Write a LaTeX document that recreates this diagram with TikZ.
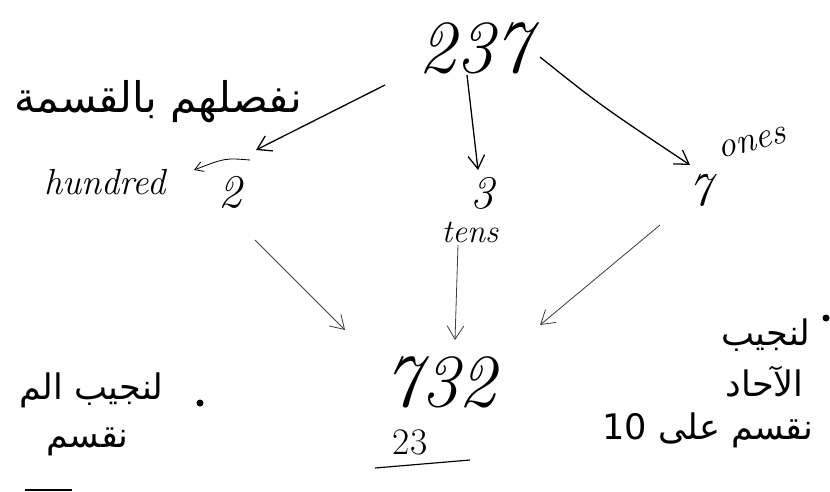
\documentclass[tikz,border=0pt]{standalone}
\usepackage{fontspec}
\usetikzlibrary{arrows.meta}
\TeXXeTstate=1
\newfontfamily\arabicfont[Script=Arabic]{DejaVu Sans}
\tikzset{
  conn/.style={line width=1.1pt, -{Straight Barb[length=4mm,width=5mm]}},
  thinconn/.style={line width=0.7pt, draw=black!75, -{Straight Barb[length=4mm,width=5mm]}},
  num/.style={inner sep=1pt, font=\fontsize{40}{44}\selectfont\itshape},
  bignum/.style={inner sep=1pt, font=\fontsize{64}{68}\selectfont\itshape},
  word/.style={inner sep=1pt, font=\fontsize{31}{35}\selectfont\itshape},
  ar/.style={inner sep=1pt, font=\fontsize{30}{34}\selectfont\arabicfont},
}
\begin{document}
\begin{tikzpicture}[x=0.03cm,y=-0.03cm]
\useasboundingbox (0,0) rectangle (830,491);
\node[bignum] (n237) at (475,48) {237};
\node[ar, font=\fontsize{36}{40}\selectfont\arabicfont] (sep) at (158,102) {\beginR نفصلهم بالقسمة\endR};
\node[num] (d2) at (230,192) {2};
\node[word] (hund) at (105,182) {hundred};
\node[num] (d3) at (482,193) {3};
\node[word, font=\fontsize{28}{32}\selectfont\itshape] (tens) at (470,232) {tens};
\node[num] (d7) at (700,190) {7};
\node[word, rotate=14] (ones) at (752,143) {ones};
\node[bignum] (n732) at (440,382) {732};
\node[num, font=\fontsize{32}{36}\selectfont] (n23) at (410,442) {23};
\coordinate (u1) at (375,468);
\coordinate (u2) at (470,460);
\draw[line width=1pt] (u1) -- (u2);
% right text
\node[ar, anchor=east] (r1) at (812,335) {\beginR لنجيب\endR};
\node[ar, anchor=east] (r2) at (805,382) {\beginR الآحاد\endR};
\node[ar, anchor=east] (r3) at (815,430) {\beginR نقسم على \beginL 10\endL\endR};
\fill (826,318) circle (3.5);
% left text
\node[ar, anchor=east] (l1) at (165,390) {\beginR لنجيب الم\endR};
\node[ar, anchor=east] (l2) at (130,442) {\beginR نقسم\endR};
\fill (200,403) circle (3.5);
\coordinate (lu1) at (25,490);
\coordinate (lu2) at (72,490);
\draw[line width=1pt] (lu1) -- (lu2);
% connectors
\coordinate (a1s) at (385,85);
\coordinate (a1e) at (256,150);
\draw[conn] (a1s) -- (a1e);
\coordinate (a2s) at (467,75);
\coordinate (a2e) at (478,170);
\draw[conn] (a2s) -- (a2e);
\coordinate (a3s) at (540,57);
\coordinate (a3e) at (690,165);
\draw[conn] (a3s) .. controls (600,105) .. (a3e);
\coordinate (hs) at (250,160);
\coordinate (he) at (194,170);
\draw[line width=0.7pt, -{Straight Barb[length=2.5mm,width=3mm]}] (hs) .. controls (225,158) .. (he);
\coordinate (b1s) at (255,240);
\coordinate (b1e) at (345,330);
\draw[thinconn] (b1s) -- (b1e);
\coordinate (b2s) at (458,245);
\coordinate (b2e) at (455,340);
\draw[thinconn] (b2s) -- (b2e);
\coordinate (b3s) at (660,225);
\coordinate (b3e) at (540,325);
\draw[thinconn] (b3s) -- (b3e);
\end{tikzpicture}
\end{document}
